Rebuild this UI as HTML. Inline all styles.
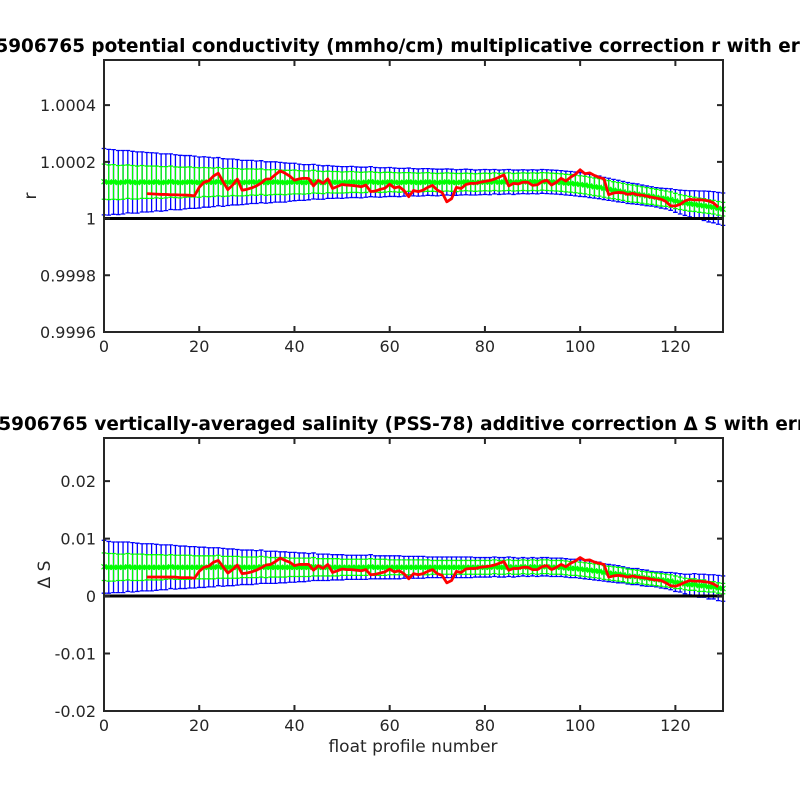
<!DOCTYPE html>
<html><head><meta charset="utf-8"><style>
html,body{margin:0;padding:0;background:#fff;}
svg{display:block;font-family:"DejaVu Sans","Liberation Sans",sans-serif;}
</style></head><body>
<svg id="chart" width="800" height="800" viewBox="0 0 800 800" xmlns="http://www.w3.org/2000/svg">
<rect width="800" height="800" fill="#fff"/>
<g id="top"></g>
<g id="bot"></g>
</svg>
<script>
// ---- TOP chart data: (r-1)*1e6 ----
const topMean = [130,128,129,127,128,130,128,127,129,128,128,129,127,128,130,128,127,128,129,128,127,129,128,128,130,127,128,129,128,127,128,129,128,130,127,128,129,128,127,128,129,128,127,128,130,128,127,129,128,128,127,128,129,128,127,128,130,128,127,128,129,128,127,128,129,128,127,128,129,128,127,128,129,128,127,128,129,128,127,128,129,128,130,128,129,130,128,129,130,129,130,129,131,130,129,128,127,125,124,122,120,118,115,112,110,106,103,100,97,94,90,88,86,83,80,78,75,72,70,67,62,58,55,52,50,47,45,42,40,36,33];
const topGreenErr = [62,61,61,60,60,59,59,58,58,57,57,56,56,55,55,54,54,53,53,52,52,51,51,50,50,49,49,48,48,47,47,46,46,45,45,44,44,43,43,42,42,41,41,40,40,39,39,38,38,38,37,37,37,36,36,36,35,35,35,35,34,34,34,34,33,33,33,33,33,32,32,32,32,32,32,31,31,31,31,31,31,31,31,31,31,31,31,31,31,31,31,31,31,31,31,31,31,31,31,31,31,31,31,31,31,31,31,30,30,30,30,30,29,29,29,28,28,28,27,27,27,26,26,26,25,25,25,24,24,24,24];
const topBlueErr = [117,116,114,113,112,110,109,108,106,105,104,102,101,100,98,97,96,94,93,92,90,89,88,86,85,84,82,81,80,78,77,76,75,74,73,72,71,70,69,67,66,64,63,62,61,60,59,58,57,56,56,55,55,54,54,53,53,52,52,51,51,50,50,49,49,48,48,48,47,47,47,46,46,46,45,45,45,45,44,44,44,44,43,43,43,43,43,42,42,42,42,42,42,42,42,42,42,42,42,42,42,41,41,40,40,39,39,38,38,37,37,36,36,35,35,34,34,35,36,38,40,42,44,46,48,50,52,54,55,56,57];
const redStart = 9;
const topRed = [88,87,86,85,85,84,84,83,83,82,80,110,128,133,150,160,130,102,118,139,100,103,108,115,125,139,140,155,168,160,150,135,140,142,141,115,135,124,140,106,113,120,118,117,115,112,118,95,97,103,107,121,108,112,99,77,99,95,100,110,117,100,92,59,70,110,106,120,124,124,128,131,134,139,146,154,115,124,122,128,128,117,119,130,135,118,128,142,132,146,156,172,158,161,152,145,140,84,90,92,91,85,89,84,82,79,75,72,68,60,45,44,50,62,68,66,66,65,62,55,40];
const topTicks = [0.9996,0.9998,1,1.0002,1.0004];
const topTickLabels = ["0.9996","0.9998","1","1.0002","1.0004"];
// ---- BOTTOM chart data: ΔS*1e4 ----
const botMean = [51,50,50,50,50,51,50,50,50,50,50,50,50,50,51,50,50,50,50,50,50,50,50,50,51,50,50,50,50,50,50,50,50,51,50,50,50,50,50,50,50,50,50,50,51,50,50,50,50,50,50,50,50,50,50,50,51,50,50,50,50,50,50,50,50,50,50,50,50,50,50,50,50,50,50,50,50,50,50,50,50,50,51,50,50,51,50,50,51,50,51,50,51,51,50,50,50,49,48,48,47,46,45,44,43,41,40,39,38,37,35,34,34,32,31,30,29,28,27,26,24,23,21,20,20,18,18,16,16,14,13];
const botGreenErr = [24,24,24,23,23,23,23,23,23,22,22,22,22,21,21,21,21,21,21,20,20,20,20,20,20,19,19,19,19,18,18,18,18,18,18,17,17,17,17,16,16,16,16,16,16,15,15,15,15,15,14,14,14,14,14,14,14,14,14,14,13,13,13,13,13,13,13,13,13,12,12,12,12,12,12,12,12,12,12,12,12,12,12,12,12,12,12,12,12,12,12,12,12,12,12,12,12,12,12,12,12,12,12,12,12,12,12,12,12,12,12,12,11,11,11,11,11,11,11,11,11,10,10,10,10,10,10,9,9,9,9];
const botBlueErr = [46,45,44,44,44,43,43,42,41,41,41,40,39,39,38,38,37,37,36,36,35,35,34,34,33,33,32,32,31,30,30,30,29,29,28,28,28,27,27,26,26,25,25,24,24,23,23,23,22,22,22,21,21,21,21,21,21,20,20,20,20,20,20,19,19,19,19,19,18,18,18,18,18,18,18,18,18,18,17,17,17,17,17,17,17,17,17,16,16,16,16,16,16,16,16,16,16,16,16,16,16,16,16,16,16,15,15,15,15,14,14,14,14,14,14,13,13,14,14,15,16,16,17,18,19,20,20,21,21,22,22];
const botRed = [33,33,33,33,33,33,33,32,32,32,31,43,50,52,59,62,51,40,46,54,39,40,42,45,49,54,55,60,66,62,59,53,55,55,55,45,53,48,55,41,44,47,46,46,45,44,46,37,38,40,42,47,42,44,39,30,39,37,39,43,46,39,36,23,27,43,41,47,48,48,50,51,52,54,57,60,45,48,48,50,50,46,46,51,53,46,50,55,51,57,61,67,62,63,59,57,55,33,35,36,35,33,35,33,32,31,29,28,27,23,18,17,20,24,27,26,26,25,24,21,16];
const botTicks = [-0.02,-0.01,0,0.01,0.02];
const botTickLabels = ["-0.02","-0.01","0","0.01","0.02"];
const xTicks = [0,20,40,60,80,100,120];
const xTickLabels = ["0","20","40","60","80","100","120"];

const NS = "http://www.w3.org/2000/svg";
function mk(parent, tag, attrs){const e=document.createElementNS(NS,tag);for(const k in attrs)e.setAttribute(k,attrs[k]);parent.appendChild(e);return e;}
const X0=104, X1=723, XMAX=130;
function xs(v){return X0+(v/XMAX)*(X1-X0);}

function panel(g, cfg){
  const ys = v => cfg.yb + (v-cfg.ymin)/(cfg.ymax-cfg.ymin)*(cfg.yt-cfg.yb);
  const yv = u => ys(cfg.base + u*cfg.unit);
  const hw = 2.3;
  const bl = mk(g,'g',{stroke:'#0000ff','stroke-width':'1.3',fill:'none'});
  
  
  let d='';
  cfg.mean.forEach((m,i)=>{const x=xs(i),a=yv(m+cfg.be[i]),b=yv(m-cfg.be[i]);
    d+=`M${x},${a}V${b}M${x-hw},${a}H${x+hw}M${x-hw},${b}H${x+hw}`;});
  mk(bl,'path',{d:d});
  const gr = mk(g,'g',{stroke:'#00ff00','stroke-width':'1.3',fill:'none'});
  
  
  d='';
  cfg.mean.forEach((m,i)=>{const x=xs(i),a=yv(m+cfg.ge[i]),b=yv(m-cfg.ge[i]);
    d+=`M${x},${a}V${b}M${x-hw},${a}H${x+hw}M${x-hw},${b}H${x+hw}`;});
  mk(gr,'path',{d:d});
  let pts = cfg.mean.map((m,i)=>xs(i)+','+yv(m)).join(' ');
  const gm = mk(g,'polyline',{points:pts,stroke:'#00ff00','stroke-width':'3',fill:'none'});
  
  
  d='';
  cfg.mean.forEach((m,i)=>{const x=xs(i),y=yv(m);d+=`M${x-2.5},${y-2.5}L${x+2.5},${y+2.5}M${x-2.5},${y+2.5}L${x+2.5},${y-2.5}`;});
  const gmk = mk(g,'path',{d:d,stroke:'#00ff00','stroke-width':'1.2'});
  
  
  const zl = mk(g,'line',{x1:X0,x2:X1,y1:ys(cfg.base),y2:ys(cfg.base),stroke:'#000','stroke-width':'3'});
  
  
  pts = cfg.red.map((v,i)=>xs(i+redStart)+','+yv(v)).join(' ');
  const rl = mk(g,'polyline',{points:pts,stroke:'#ff0000','stroke-width':'2.8',fill:'none','stroke-linejoin':'round'});
  
  
  const box = mk(g,'rect',{x:X0,y:cfg.yt,width:X1-X0,height:cfg.yb-cfg.yt,fill:'none',stroke:'#262626','stroke-width':'2'});
  
  
  cfg.ticks.forEach((t,i)=>{const y=ys(t);
    mk(g,'path',{d:`M${X0},${y}H${X0+6}M${X1},${y}H${X1-6}`,stroke:'#262626','stroke-width':'2'});
    const tx=mk(g,'text',{x:X0-8,y:y+6,'text-anchor':'end','font-size':'16',fill:'#262626'});
    tx.textContent=cfg.tickLabels[i];
    
    
  });
  xTicks.forEach((t,i)=>{const x=xs(t);
    mk(g,'path',{d:`M${x},${cfg.yb}V${cfg.yb-6}M${x},${cfg.yt}V${cfg.yt+6}`,stroke:'#262626','stroke-width':'2'});
    const tx=mk(g,'text',{x:x,y:cfg.yb+20,'text-anchor':'middle','font-size':'16',fill:'#262626'});
    tx.textContent=xTickLabels[i];
    
    
  });
  const ti = mk(g,'text',{x:413,y:cfg.yt-8,'text-anchor':'middle','font-size':'18.4','font-weight':'bold',fill:'#000'});
  ti.textContent=cfg.title;
  
  
  const yl = mk(g,'text',{x:0,y:0,'text-anchor':'middle','font-size':'17',fill:'#262626',transform:`translate(${cfg.ylx},${(cfg.yt+cfg.yb)/2}) rotate(-90)`});
  yl.textContent=cfg.ylabel;
  
  
}
panel(document.getElementById('top'),{yt:60,yb:332,ymin:0.9996,ymax:1.000559,base:1,unit:1e-6,
  mean:topMean,be:topBlueErr,ge:topGreenErr,red:topRed,ticks:topTicks,tickLabels:topTickLabels,
  title:"5906765 potential conductivity (mmho/cm) multiplicative correction r with error",ylabel:"r",ylx:36});
panel(document.getElementById('bot'),{yt:438,yb:711,ymin:-0.02,ymax:0.0275,base:0,unit:1e-4,
  mean:botMean,be:botBlueErr,ge:botGreenErr,red:botRed,ticks:botTicks,tickLabels:botTickLabels,
  title:"5906765 vertically-averaged salinity (PSS-78) additive correction \u0394 S with error",ylabel:"\u0394 S",ylx:50});
const xl = mk(document.getElementById('chart'),'text',{x:413,y:752,'text-anchor':'middle','font-size':'17',fill:'#262626'});
xl.textContent='float profile number';


</script>
</body></html>
